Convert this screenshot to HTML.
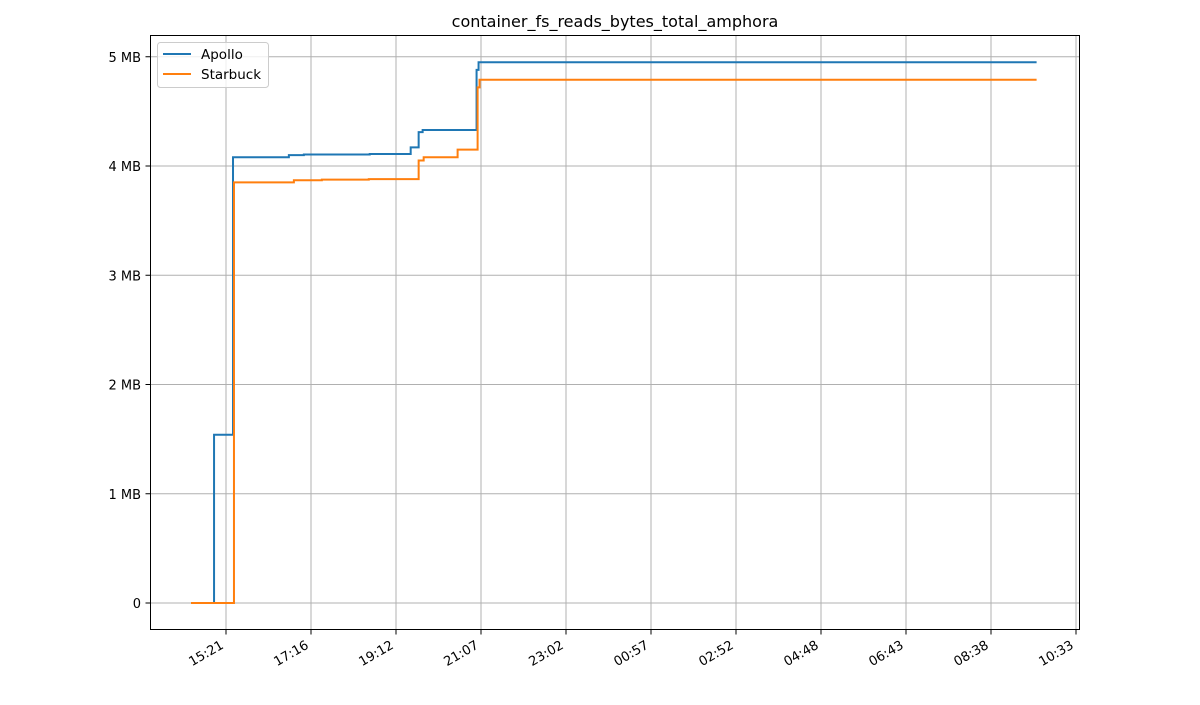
<!DOCTYPE html>
<html><head><meta charset="utf-8"><style>
body{margin:0;background:#fff;font-family:"Liberation Sans","DejaVu Sans",sans-serif}
</style></head><body>
<svg id="chart" width="1200" height="700" xmlns="http://www.w3.org/2000/svg" style="font-family:'DejaVu Sans','Liberation Sans',sans-serif">
<text x="615" y="27" text-anchor="middle" font-size="16">container_fs_reads_bytes_total_amphora</text>
<g id="grid"></g>
<g id="series"></g>
<rect x="150.5" y="35.5" width="929" height="594" fill="none" stroke="#000" stroke-width="1"/>
<g id="axes"></g>
<g>
<rect x="157.5" y="42.5" width="111" height="45" rx="3" fill="#fff" fill-opacity="0.8" stroke="#ccc"/>
<line x1="163" y1="54" x2="191" y2="54" stroke="#1f77b4" stroke-width="2"/>
<text x="201" y="59" font-size="13.5">Apollo</text>
<line x1="163" y1="74" x2="191" y2="74" stroke="#ff7f0e" stroke-width="2"/>
<text x="201" y="79" font-size="13.5">Starbuck</text>
</g>
</svg>
<script>
// times in minutes since 00:00 of day 1 (values > 1440 are next day); values in MB
const apolloTimes=[873.6,904.8,930.5,1006.2,1026.5,1115.8,1171.3,1182.1,1187.5,1260.6,1263.3,2019.6];
const apolloValues=[0,1.54,4.08,4.10,4.105,4.11,4.17,4.31,4.33,4.88,4.95,4.95];
const starbuckTimes=[873.6,931.8,1013,1050.9,1114.5,1182.1,1188.9,1234.9,1262,1264.6,2019.6];
const starbuckValues=[0,3.85,3.87,3.875,3.88,4.05,4.08,4.15,4.72,4.79,4.79];
const xTickLabels=["15:21","17:16","19:12","21:07","23:02","00:57","02:52","04:48","06:43","08:38","10:33"];
const xTickTimes=[921,1036.2,1151.4,1266.6,1381.8,1497,1612.2,1727.4,1842.6,1957.8,2073];
const yTickValues=[0,1,2,3,4,5];
const yTickLabels=["0","1 MB","2 MB","3 MB","4 MB","5 MB"];
const NS="http://www.w3.org/2000/svg";
const xs=t=>226+(t-921)*85/115.2;
const ys=v=>603-v*109.25;
function mk(tag,attrs,parent){const e=document.createElementNS(NS,tag);for(const k in attrs)e.setAttribute(k,attrs[k]);parent.appendChild(e);return e;}
const grid=document.getElementById('grid'),axes=document.getElementById('axes'),ser=document.getElementById('series');
xTickTimes.forEach((t,i)=>{const x=xs(t);
 const g=mk('line',{x1:x,y1:35,x2:x,y2:630,stroke:'#b0b0b0','stroke-width':1},grid);
 
 const tk=mk('line',{x1:x,y1:630,x2:x,y2:634.5,stroke:'#000'},axes);
 
 const ax=x-6, ay=640;
 const tx=mk('text',{x:ax,y:ay,'font-size':13,'text-anchor':'end',transform:`rotate(-30 ${ax} ${ay})`,'dominant-baseline':'hanging'},axes);
 tx.textContent=xTickLabels[i];
 });
yTickValues.forEach((v,i)=>{const y=ys(v);
 const g=mk('line',{x1:150,y1:y,x2:1080,y2:y,stroke:'#b0b0b0','stroke-width':1},grid);
 
 const tk=mk('line',{x1:145.5,y1:y,x2:150,y2:y,stroke:'#000'},axes);
 
 const tx=mk('text',{x:141,y:y+5,'font-size':13,'text-anchor':'end'},axes);
 tx.textContent=yTickLabels[i];
 });
function step(times,vals,color,name){let d='';
 times.forEach((t,i)=>{const x=xs(t),y=ys(vals[i]);
  if(i===0)d+=`M${x},${y}`;else d+=`H${x}V${y}`;});
 const p=mk('path',{d:d,fill:'none',stroke:color,'stroke-width':2},ser);
 }
step(apolloTimes,apolloValues,'#1f77b4','apollo-line');
step(starbuckTimes,starbuckValues,'#ff7f0e','starbuck-line');
</script>
</body></html>
